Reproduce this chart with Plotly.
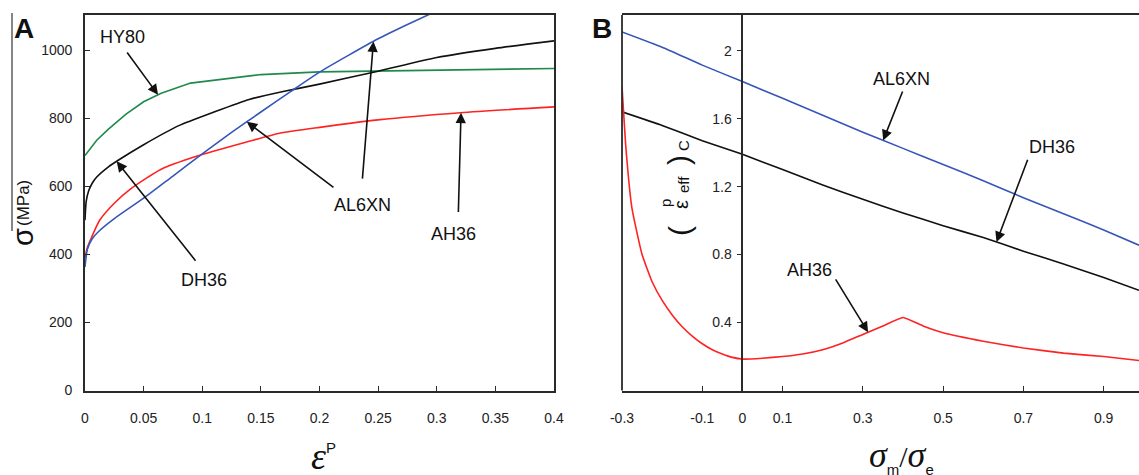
import numpy as np
import plotly.graph_objects as go

W, H = 1139, 475

# ---- Panel A: flow stress vs. plastic strain ----
eps_hy80 = [0, 0.01, 0.02, 0.035, 0.05, 0.065, 0.09, 0.15, 0.2, 0.3, 0.4]
sig_hy80 = [690, 735, 768, 812, 848, 873, 903, 928, 936, 942, 946]

eps_dh36 = [0, 0.001, 0.003, 0.006, 0.01, 0.02, 0.03, 0.05, 0.08, 0.11, 0.14,
            0.17, 0.2, 0.25, 0.3, 0.35, 0.4]
sig_dh36 = [500, 555, 585, 608, 627, 657, 680, 722, 778, 818, 855,
            879, 900, 938, 978, 1005, 1027]

eps_ah36 = [0, 0.002, 0.005, 0.0125, 0.025, 0.04, 0.065, 0.095, 0.14, 0.165,
            0.2, 0.25, 0.32, 0.4]
sig_ah36 = [390, 420, 445, 500, 550, 595, 650, 688, 732, 755,
            773, 795, 816, 833]

eps_al6xn = [0, 0.002, 0.006, 0.0125, 0.025, 0.05, 0.075, 0.1, 0.125, 0.15,
             0.175, 0.2, 0.225, 0.25, 0.275, 0.3]
sig_al6xn = [363, 415, 445, 470, 505, 565, 630, 695, 758, 818,
             877, 935, 985, 1033, 1075, 1115]

xticks_a = [0, 0.05, 0.1, 0.15, 0.2, 0.25, 0.3, 0.35, 0.4]
xticktext_a = ["0", "0.05", "0.1", "0.15", "0.2", "0.25", "0.3", "0.35", "0.4"]
yticks_a = [0, 200, 400, 600, 800, 1000]

# ---- Panel B: critical effective plastic strain vs. triaxiality ----
m_lin = [-0.3, -0.2, -0.1, 0, 0.1, 0.2, 0.3, 0.4, 0.5, 0.6, 0.7, 0.8, 0.9, 0.988]
v_al6xn = [2.11, 2.02, 1.915, 1.818, 1.72, 1.62, 1.52, 1.425, 1.33, 1.235,
           1.135, 1.04, 0.945, 0.855]
v_dh36 = [1.64, 1.56, 1.47, 1.39, 1.30, 1.21, 1.125, 1.045, 0.97, 0.90,
          0.82, 0.745, 0.665, 0.59]

m_ah36 = [-0.3, -0.29, -0.275, -0.25, -0.225, -0.2, -0.175, -0.15, -0.125,
          -0.1, -0.075, -0.05, -0.025, 0, 0.05, 0.1, 0.15, 0.2, 0.25, 0.3,
          0.35, 0.4, 0.45, 0.5, 0.6, 0.7, 0.8, 0.9, 0.988]
v_ah36 = [1.79, 1.42, 1.07, 0.80, 0.64, 0.53, 0.445, 0.375, 0.32,
          0.275, 0.24, 0.215, 0.195, 0.185, 0.19, 0.2, 0.215, 0.24, 0.28, 0.33,
          0.38, 0.43, 0.38, 0.34, 0.29, 0.25, 0.22, 0.2, 0.177]

xticks_b = [-0.3, -0.1, 0, 0.1, 0.3, 0.5, 0.7, 0.9]
xticktext_b = ["-0.3", "-0.1", "0", "0.1", "0.3", "0.5", "0.7", "0.9"]
yticks_b = [0.4, 0.8, 1.2, 1.6, 2.0]
yticktext_b = ["0.4", "0.8", "1.2", "1.6", "2"]

GREEN = "#1f8a4c"
BLUE = "#3656b8"
RED = "#ff2222"
BLACK = "#111111"
AXIS = "#2a2a2a"
FONT = "Liberation Sans, Arial, sans-serif"
SERIF = "Liberation Serif, Times New Roman, serif"

# plot areas in pixels
A_L, A_R, TOP, BOT = 85, 554, 15, 390.5
B_L, B_R = 622, W
xr_b = [-0.3, 0.988]
yr_a = [0, 1103]
yr_b = [0, 2.21]


def px(x):
    return x / W


def py(y):
    return 1 - y / H


fig = go.Figure()

lw = 1.6
for e, s, c, shape in [(eps_hy80, sig_hy80, GREEN, "linear"),
                       (eps_dh36, sig_dh36, BLACK, "spline"),
                       (eps_ah36, sig_ah36, RED, "spline"),
                       (eps_al6xn, sig_al6xn, BLUE, "spline")]:
    fig.add_trace(go.Scatter(x=e, y=s, mode="lines",
                             line=dict(color=c, width=lw, shape=shape,
                                       smoothing=0.6),
                             xaxis="x", yaxis="y", showlegend=False,
                             hoverinfo="skip"))

for m, v, c in [(m_lin, v_al6xn, BLUE), (m_lin, v_dh36, BLACK),
                (m_ah36, v_ah36, RED)]:
    fig.add_trace(go.Scatter(x=m, y=v, mode="lines",
                             line=dict(color=c, width=lw, shape="spline",
                                       smoothing=0.4),
                             xaxis="x2", yaxis="y2", showlegend=False,
                             hoverinfo="skip"))

tickfont = dict(family=FONT, size=14, color="#222")
b_zero = B_L + (0 - xr_b[0]) / (xr_b[1] - xr_b[0]) * (B_R - B_L)

common = dict(showgrid=False, zeroline=False, automargin=False,
              tickfont=tickfont, tickcolor=AXIS, tickwidth=1.3, ticklen=5,
              showline=True, linecolor=AXIS, linewidth=1.8)

fig.update_layout(
    width=W, height=H, margin=dict(l=0, r=0, t=0, b=0, autoexpand=False),
    paper_bgcolor="white", plot_bgcolor="white",
    xaxis=dict(domain=[px(A_L), px(A_R)], range=[0, 0.4], anchor="y",
               tickvals=xticks_a, ticktext=xticktext_a, ticks="inside",
               mirror=True, ticklabelstandoff=14, **common),
    yaxis=dict(domain=[py(BOT), py(TOP)], range=yr_a, anchor="x",
               tickvals=yticks_a, ticks="inside", mirror=True,
               ticklabelstandoff=8, **common),
    xaxis2=dict(domain=[px(B_L), px(B_R)], range=xr_b, anchor="y2",
                tickvals=xticks_b, ticktext=xticktext_b, ticks="inside",
                mirror=True, ticklabelstandoff=14, **common),
    yaxis2=dict(domain=[py(BOT), py(TOP)], range=yr_b, anchor="free",
                position=px(b_zero), tickvals=yticks_b, ticktext=yticktext_b,
                ticks="outside", ticklabelstandoff=2, **common),
)

# left border of panel B
fig.add_shape(type="line", xref="x2 domain", yref="y2 domain", x0=0, x1=0,
              y0=0, y1=1, line=dict(color=AXIS, width=1.8))
# overbar of the stress symbol
fig.add_shape(type="line", xref="paper", yref="paper", x0=px(12), x1=px(12),
              y0=py(13), y1=py(231), line=dict(color="#333", width=1.2))

ann = []


def label(x, y, text, size=18, xref="x", yref="y", **kw):
    d = dict(x=x, y=y, xref=xref, yref=yref, text=text, showarrow=False,
             font=dict(family=kw.pop("family", FONT), size=size,
                       color=kw.pop("color", "#111")),
             xanchor="center", yanchor="middle")
    d.update(kw)
    ann.append(d)


def arrow(xs, ys, xt, yt, xa="x", ya="y"):
    """Callout arrow from a tail point to a tip point on a curve."""
    ann.append(dict(x=xt, y=yt, xref=xa, yref=ya, ax=xs, ay=ys, axref=xa,
                    ayref=ya, text="", showarrow=True, arrowhead=2,
                    arrowsize=1.3, arrowwidth=1.6, arrowcolor="#111",
                    standoff=0))


# panel A callouts
label(0.0316, 1038, "HY80")
arrow(0.035, 997, 0.0623, np.interp(0.0623, eps_hy80, sig_hy80))
label(0.1015, 326, "DH36")
arrow(0.0953, 377, 0.027, np.interp(0.027, eps_dh36, sig_dh36))
label(0.237, 544, "AL6XN")
arrow(0.2365, 618, 0.246, np.interp(0.246, eps_al6xn, sig_al6xn))
arrow(0.2132, 593, 0.138, np.interp(0.138, eps_al6xn, sig_al6xn))
label(0.3147, 459, "AH36")
arrow(0.3184, 520, 0.3207, np.interp(0.3207, eps_ah36, sig_ah36))

# panel B callouts
label(0.397, 1.833, "AL6XN", xref="x2", yref="y2")
arrow(0.4005, 1.769, 0.3506, np.interp(0.3506, m_lin, v_al6xn), "x2", "y2")
label(0.771, 1.434, "DH36", xref="x2", yref="y2")
arrow(0.712, 1.367, 0.633, np.interp(0.633, m_lin, v_dh36), "x2", "y2")
label(0.168, 0.71, "AH36", xref="x2", yref="y2")
arrow(0.230, 0.663, 0.313, np.interp(0.313, m_ah36, v_ah36), "x2", "y2")

# panel letters
label(px(24), py(29), "<b>A</b>", size=28, xref="paper", yref="paper")
label(px(602), py(28), "<b>B</b>", size=28, xref="paper", yref="paper")

# panel A axis titles
label(px(23), py(237), "σ", size=29, xref="paper", yref="paper", textangle=-90)
label(px(23), py(203), "(MPa)", size=17, xref="paper", yref="paper",
      textangle=-90)
SUB = '<span style="font-family:Liberation Sans;font-size:15px">{}</span>'
label(px(323), py(456), "<i>ε</i><sup>" + SUB.format("P") + "</sup>",
      size=38, xref="paper", yref="paper", family=SERIF)

# panel B axis titles
label(px(901), py(456),
      "<i>σ</i><sub>" + SUB.format("m") + "</sub>"
      + '<span style="font-size:30px">/</span>'
      + "<i>σ</i><sub>" + SUB.format("e") + "</sub>",
      size=36, xref="paper", yref="paper", family=SERIF)

label(px(679), py(231), "(", size=30, xref="paper", yref="paper", textangle=-90)
label(px(681), py(205), "ε", size=20, xref="paper", yref="paper", textangle=-90)
label(px(665), py(203), "p", size=15, xref="paper", yref="paper", textangle=-90)
label(px(683), py(185), "eff", size=15, xref="paper", yref="paper",
      textangle=-90)
label(px(679), py(160), ")", size=30, xref="paper", yref="paper", textangle=-90)
label(px(684), py(146), "C", size=15, xref="paper", yref="paper", textangle=-90)

fig.update_layout(annotations=ann)
fig.write_html("out.html")
